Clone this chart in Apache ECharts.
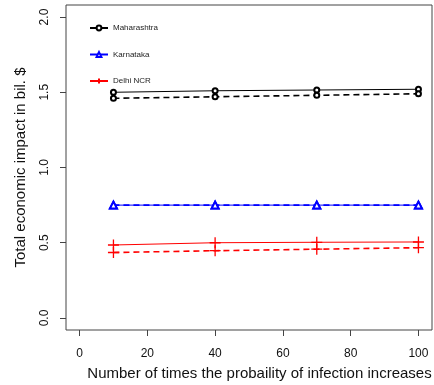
<!DOCTYPE html>
<html>
<head>
<meta charset="utf-8">
<script src="https://cdn.jsdelivr.net/npm/echarts@6/dist/echarts.min.js"></script>
<style>
  html, body { margin: 0; padding: 0; background: #fff; }
  #chart { width: 434px; height: 385px; }
</style>
</head>
<body>
<div id="chart"></div>
<script>
// Multiplier of infection probability
const factors = [10, 40, 70, 100];

// Total economic impact (billion $), solid and dashed scenario per region
const maharashtraSolid = [1.50, 1.51, 1.515, 1.52];
const maharashtraDashed = [1.46, 1.47, 1.48, 1.49];
const karnatakaSolid = [0.75, 0.75, 0.75, 0.75];
const karnatakaDashed = [0.75, 0.75, 0.75, 0.75];
const delhiSolid = [0.485, 0.50, 0.503, 0.505];
const delhiDashed = [0.435, 0.447, 0.457, 0.467];

const xTicks = [0, 20, 40, 60, 80, 100];
const yTicks = [0, 0.5, 1.0, 1.5, 2.0];

const plusPath = 'path://M0,5L10,5M5,0L5,10';

function pairs(vals) {
  return factors.map((x, i) => [x, vals[i]]);
}

function lineSeries(name, vals, color, symbol, size, dashed, width) {
  const isPlus = symbol === plusPath;
  return {
    name: name,
    type: 'line',
    data: pairs(vals),
    symbol: symbol,
    symbolSize: size,
    showSymbol: true,
    lineStyle: { color: color, width: width, type: dashed ? [6, 4] : 'solid' },
    itemStyle: isPlus
      ? { color: color, borderColor: color, borderWidth: 1.3 }
      : { color: color, borderColor: color, borderWidth: 1 },
    emphasis: { disabled: true },
    z: dashed ? 3 : 2
  };
}

const chart = echarts.init(document.getElementById('chart'), null, { renderer: 'canvas' });

chart.setOption({
  animation: false,
  backgroundColor: '#fff',
  textStyle: { fontFamily: 'Liberation Sans, Arial, sans-serif' },
  grid: {
    left: 66, right: 2, top: 5, bottom: 55,
    outerBoundsMode: 'none',
    containLabel: false,
    show: true, borderColor: '#444', borderWidth: 1, backgroundColor: 'transparent'
  },
  legend: {
    orient: 'vertical',
    left: 84, top: 19,
    itemWidth: 18, itemHeight: 6,
    itemGap: 18.5,
    textStyle: { fontSize: 8, color: '#222', fontFamily: 'Liberation Sans, Arial, sans-serif' },
    data: ['Maharashtra', 'Karnataka', 'Delhi NCR']
  },
  xAxis: {
    type: 'value',
    min: -4, max: 104,
    name: 'Number of times the probaility of infection increases',
    nameLocation: 'middle',
    nameGap: 36,
    nameMoveOverlap: false,
    nameTextStyle: { fontSize: 15, color: '#111', padding: [0, 0, 0, 21] },
    axisLine: { show: false, onZero: false },
    axisTick: { show: true, inside: false, length: 6, lineStyle: { color: '#444' }, customValues: xTicks },
    axisLabel: { fontSize: 12, color: '#111', margin: 18, customValues: xTicks },
    splitLine: { show: false }
  },
  yAxis: {
    type: 'value',
    min: -0.08, max: 2.08,
    name: 'Total economic impact in bil. $',
    nameLocation: 'middle',
    nameGap: 38,
    nameMoveOverlap: false,
    nameTextStyle: { fontSize: 15, color: '#111' },
    axisLine: { show: false, onZero: false },
    axisTick: { show: true, inside: false, length: 6, lineStyle: { color: '#444' }, customValues: yTicks },
    axisLabel: {
      fontSize: 12, color: '#111', margin: 15, rotate: 90,
      customValues: yTicks,
      formatter: v => v.toFixed(1)
    },
    splitLine: { show: false }
  },
  series: [
    lineSeries('Maharashtra', maharashtraSolid, '#000', 'emptyCircle', 5, false, 1),
    lineSeries('Maharashtra (dashed)', maharashtraDashed, '#000', 'emptyCircle', 5, true, 1.6),
    lineSeries('Karnataka', karnatakaSolid, '#0000ff', 'emptyTriangle', 7, false, 1),
    lineSeries('Karnataka (dashed)', karnatakaDashed, '#0000ff', 'emptyTriangle', 7, true, 1.6),
    lineSeries('Delhi NCR', delhiSolid, '#ff0000', plusPath, 11, false, 1),
    lineSeries('Delhi NCR (dashed)', delhiDashed, '#ff0000', plusPath, 11, true, 1.6)
  ]
});
</script>
</body>
</html>
